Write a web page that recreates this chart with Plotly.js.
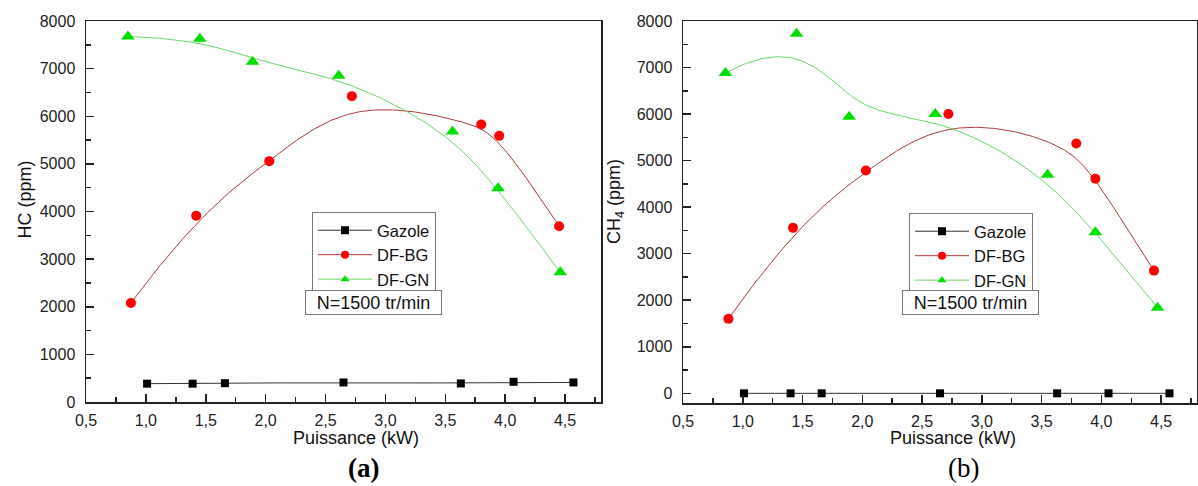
<!DOCTYPE html>
<html><head><meta charset="utf-8">
<script src="https://cdn.plot.ly/plotly-3.0.1.min.js"></script>
<style>html,body{margin:0;padding:0;background:#fff}#chart{width:1198px;height:486px}</style>
</head><body><div id="chart"></div>
<script>
// ---- data ----
const seriesNames = ['Gazole', 'DF-BG', 'DF-GN'];
const xTickLabels = ['0,5','1,0','1,5','2,0','2,5','3,0','3,5','4,0','4,5'];
// (a) HC (ppm)
const hcGazoleX = [1.01, 1.39, 1.66, 2.65, 3.63, 4.07, 4.57];
const hcGazoleY = [385, 385, 395, 410, 390, 425, 410];
const hcBgX = [0.875, 1.42, 2.03, 2.72, 3.80, 3.95, 4.45];
const hcBgY = [2080, 3910, 5057, 6422, 5826, 5588, 3691];
const hcGnX = [0.85, 1.45, 1.89, 2.61, 3.56, 3.94, 4.46];
const hcGnY = [7674, 7626, 7143, 6849, 5679, 4489, 2724];
// (b) CH4 (ppm)
const chGazoleX = [1.01, 1.40, 1.66, 2.65, 3.63, 4.06, 4.57];
const chGazoleY = [0, 0, 0, 0, 0, 0, 0];
const chBgX = [0.88, 1.42, 2.03, 2.72, 3.79, 3.95, 4.44];
const chBgY = [1600, 3555, 4787, 6000, 5368, 4609, 2637];
const chGnX = [0.855, 1.45, 1.89, 2.61, 3.55, 3.95, 4.47];
const chGnY = [6880, 7727, 5942, 6000, 4695, 3462, 1841];

// ---- clamped cubic B-spline (data points used as control points) ----
function bspline(xs, ys, nSamples) {
  const n = xs.length - 1, p = Math.min(3, n);
  const knots = [];
  for (let i = 0; i <= p; i++) knots.push(0);
  const inner = n - p;
  for (let i = 1; i <= inner; i++) knots.push(i / (inner + 1));
  for (let i = 0; i <= p; i++) knots.push(1);
  const ox = [], oy = [];
  for (let s = 0; s <= nSamples; s++) {
    let t = s / nSamples;
    if (t >= 1) t = 1 - 1e-9;
    let k = p;
    while (k < n && t >= knots[k + 1]) k++;
    const dx = [], dy = [];
    for (let j = 0; j <= p; j++) { dx.push(xs[j + k - p]); dy.push(ys[j + k - p]); }
    for (let r = 1; r <= p; r++) {
      for (let j = p; j >= r; j--) {
        const a = (t - knots[j + k - p]) / (knots[j + 1 + k - r] - knots[j + k - p]);
        dx[j] = (1 - a) * dx[j - 1] + a * dx[j];
        dy[j] = (1 - a) * dy[j - 1] + a * dy[j];
      }
    }
    ox.push(dx[p]); oy.push(dy[p]);
  }
  return {x: ox, y: oy};
}

const styles = [
  {marker: 'square', mcolor: '#000000', lcolor: '#333333', size: 8},
  {marker: 'circle', mcolor: '#ff0000', lcolor: '#b03a3a', size: 10},
  {marker: 'triangle-up', mcolor: '#00e000', lcolor: '#66d966', size: 12}
];

function makeTraces(xsList, ysList, xa, ya, leg) {
  const out = [];
  xsList.forEach((xs, i) => {
    const ys = ysList[i], st = styles[i];
    const c = bspline(xs, ys, 200);
    out.push({
      x: c.x, y: c.y, xaxis: xa, yaxis: ya, legend: leg,
      name: seriesNames[i], mode: 'lines+markers',
      line: {color: st.lcolor, width: 1},
      marker: {symbol: st.marker, color: st.mcolor, size: 8},
      selectedpoints: [], unselected: {marker: {opacity: 0}},
      hoverinfo: 'skip'
    });
    out.push({
      x: xs, y: ys, xaxis: xa, yaxis: ya, showlegend: false,
      mode: 'markers', name: seriesNames[i],
      marker: {symbol: st.marker, color: st.mcolor, size: st.size}
    });
  });
  return out;
}

const data = [].concat(
  makeTraces([hcGazoleX, hcBgX, hcGnX], [hcGazoleY, hcBgY, hcGnY], 'x', 'y', 'legend'),
  makeTraces([chGazoleX, chBgX, chGnX], [chGazoleY, chBgY, chGnY], 'x2', 'y2', 'legend2')
);

const W = 1198, H = 486;
const axCommon = {
  showline: true, linecolor: '#222', linewidth: 1.5, mirror: true,
  showgrid: false, zeroline: false,
  ticks: 'inside', ticklen: 8, tickwidth: 1.5, tickcolor: '#222',
  tickfont: {size: 16, color: '#222'}
};
const xCommon = Object.assign({}, axCommon, {
  range: [0.5, 4.8], tickmode: 'array',
  tickvals: [0.5, 1, 1.5, 2, 2.5, 3, 3.5, 4, 4.5], ticktext: xTickLabels,
  minor: {ticks: 'inside', ticklen: 5, tickwidth: 1.5, tickcolor: '#222', tickvals: [0.75, 1.25, 1.75, 2.25, 2.75, 3.25, 3.75, 4.25, 4.75]},
  ticklabelstandoff: 3
});
const yCommon = Object.assign({}, axCommon, {
  dtick: 1000, tick0: 0,
  minor: {ticks: 'inside', ticklen: 5, tickwidth: 1.5, tickcolor: '#222', dtick: 500},
  ticklabelstandoff: 6
});

const legCommon = {
  xanchor: 'left', yanchor: 'top', bgcolor: '#fff', bordercolor: '#777', borderwidth: 1,
  font: {size: 16.5, color: '#111'}, itemwidth: 54, tracegroupgap: 0
};

function ann(text, x, y, extra) {
  return Object.assign({text: text, x: x / W, y: 1 - y / H, xref: 'paper', yref: 'paper',
    showarrow: false, xanchor: 'center', yanchor: 'middle', font: {size: 18, color: '#111'}}, extra || {});
}

const layout = {
  width: W, height: H, margin: {l: 0, r: 0, t: 0, b: 0},
  paper_bgcolor: '#fff', plot_bgcolor: '#fff',
  font: {family: 'Liberation Sans, Arial, sans-serif', color: '#111'},
  showlegend: true,
  xaxis: Object.assign({}, xCommon, {domain: [86 / W, 601 / W], anchor: 'y'}),
  yaxis: Object.assign({}, yCommon, {domain: [84 / H, 465 / H], range: [0, 8000], anchor: 'x'}),
  xaxis2: Object.assign({}, xCommon, {domain: [683 / W, 1197 / W], anchor: 'y2'}),
  yaxis2: Object.assign({}, yCommon, {domain: [83 / H, 465 / H], range: [-208, 8000], anchor: 'x2'}),
  legend: Object.assign({}, legCommon, {x: 312 / W, y: 1 - 212 / H}),
  legend2: Object.assign({}, legCommon, {x: 909 / W, y: 1 - 213 / H}),
  annotations: [
    ann('HC (ppm)', 24.5, 200, {textangle: -90}),
    ann('Puissance (kW)', 356, 438),
    ann('N=1500 tr/min', 374, 302.5, {bordercolor: '#777', borderwidth: 1, borderpad: 1, bgcolor: '#fff', width: 133, height: 21}),
    ann('<b>(a)</b>', 363, 468, {font: {family: 'Liberation Serif, Times New Roman, serif', size: 27, color: '#000'}}),
    ann('CH<sub>4</sub> (ppm)', 615, 201, {textangle: -90}),
    ann('Puissance (kW)', 952.5, 438),
    ann('N=1500 tr/min', 970.5, 302.5, {bordercolor: '#777', borderwidth: 1, borderpad: 1, bgcolor: '#fff', width: 133, height: 21}),
    ann('(b)', 963, 468, {font: {family: 'Liberation Serif, Times New Roman, serif', size: 27, color: '#000'}})
  ]
};

Plotly.newPlot('chart', data, layout, {displayModeBar: false, staticPlot: true});
</script>
</body></html>
